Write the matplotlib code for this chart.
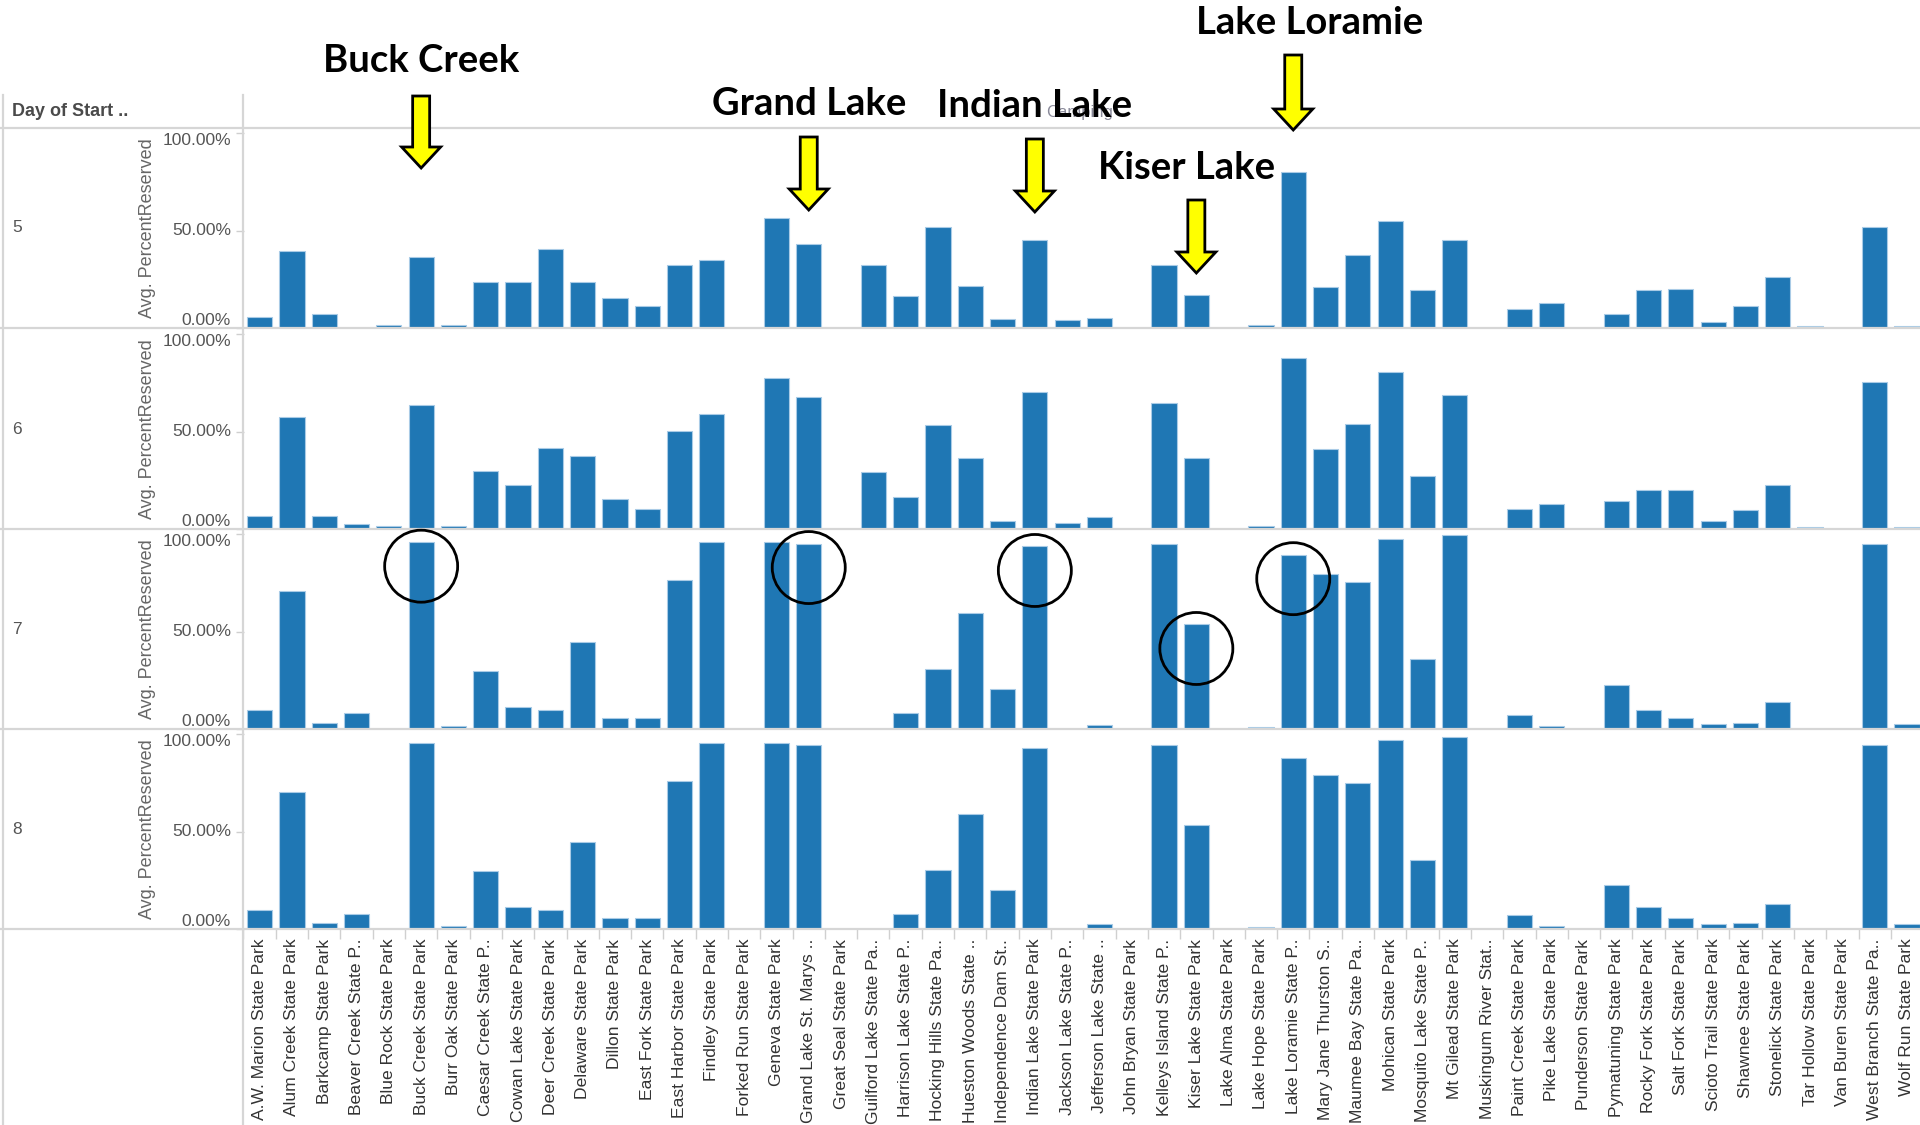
import matplotlib.pyplot as plt
from matplotlib.patches import FancyArrow, Ellipse

# -------------------------------
# Data: avg. percent reserved per park, one list per start day
# -------------------------------
parks = [
    "A.W. Marion State Park", "Alum Creek State Park", "Barkcamp State Park",
    "Beaver Creek State P..", "Blue Rock State Park", "Buck Creek State Park",
    "Burr Oak State Park", "Caesar Creek State P..", "Cowan Lake State Park",
    "Deer Creek State Park", "Delaware State Park", "Dillon State Park",
    "East Fork State Park", "East Harbor State Park", "Findley State Park",
    "Forked Run State Park", "Geneva State Park", "Grand Lake St. Marys ..",
    "Great Seal State Park", "Guilford Lake State Pa..", "Harrison Lake State P..",
    "Hocking Hills State Pa..", "Hueston Woods State ..", "Independence Dam St..",
    "Indian Lake State Park", "Jackson Lake State P..", "Jefferson Lake State ..",
    "John Bryan State Park", "Kelleys Island State P..", "Kiser Lake State Park",
    "Lake Alma State Park", "Lake Hope State Park", "Lake Loramie State P..",
    "Mary Jane Thurston S..", "Maumee Bay State Pa..", "Mohican State Park",
    "Mosquito Lake State P..", "Mt Gilead State Park", "Muskingum River Stat..",
    "Paint Creek State Park", "Pike Lake State Park", "Punderson State Park",
    "Pymatuning State Park", "Rocky Fork State Park", "Salt Fork State Park",
    "Scioto Trail State Park", "Shawnee State Park", "Stonelick State Park",
    "Tar Hollow State Park", "Van Buren State Park", "West Branch State Pa..",
    "Wolf Run State Park",
]

days = ["5", "6", "7", "8"]

day5 = [5.7, 39.7, 7.2, 0, 1.6, 36.4, 1.6, 23.4, 23.4, 40.3, 23.4, 15.5, 11.4,
        32.2, 34.7, 0, 56.6, 42.9, 0, 32.2, 16.2, 51.7, 21.7, 4.8, 45.3, 4.1,
        5.0, 0, 32.2, 17.1, 0, 1.6, 80.0, 21.0, 37.2, 55.0, 19.5, 45.3, 0,
        9.8, 12.9, 0, 7.2, 19.5, 20.2, 3.3, 11.4, 25.9, 0.9, 0, 51.7, 0.9]

day6 = [6.6, 57.4, 6.6, 2.6, 1.7, 63.8, 1.7, 30.0, 22.8, 41.4, 37.2, 15.3, 10.3,
        50.2, 59.0, 0, 77.6, 67.8, 0, 29.0, 16.2, 53.3, 36.4, 4.1, 70.3, 3.3,
        6.0, 0, 64.7, 36.4, 0, 1.7, 87.9, 41.2, 54.1, 80.7, 27.4, 68.6, 0,
        10.3, 12.9, 0, 14.5, 20.2, 20.2, 4.1, 9.7, 22.6, 0.9, 0, 75.2, 0.9]

day7 = [9.9, 70.8, 3.1, 8.0, 0, 95.8, 1.6, 30.0, 11.5, 9.9, 44.8, 5.7, 5.7,
        76.4, 95.8, 0, 95.8, 95.1, 0, 0, 8.0, 30.7, 59.4, 20.3, 93.6, 0,
        2.3, 0, 95.1, 53.6, 0, 0.9, 89.4, 79.7, 75.5, 97.6, 35.8, 99.3, 0,
        7.3, 1.6, 0, 22.7, 9.9, 5.7, 2.4, 3.1, 13.7, 0, 0, 95.1, 2.4]

day8 = [9.7, 70.3, 3.1, 7.9, 0, 95.2, 1.7, 29.8, 11.4, 9.7, 44.5, 5.5, 5.5,
        76.0, 95.2, 0, 95.2, 94.5, 0, 0, 7.9, 30.5, 59.0, 20.2, 92.8, 0,
        2.4, 0, 94.5, 53.3, 0, 0.9, 87.9, 79.1, 75.0, 96.9, 35.5, 98.6, 0,
        7.2, 1.7, 0, 22.6, 11.4, 5.5, 2.4, 3.1, 12.9, 0, 0, 94.5, 2.4]

# Highlighted parks: (annotation text, park index, text x shift, text y, arrow top, arrow tip)
highlights = [
    ("Buck Creek", 5, 0, 61, 96, 168),
    ("Grand Lake", 17, 0, 104, 137, 210),
    ("Indian Lake", 24, 0, 106, 139, 212),
    ("Kiser Lake", 29, -10, 168, 200, 273),
    ("Lake Loramie", 32, 16, 23, 55, 130),
]

# -------------------------------
# Layout (pixels)
# -------------------------------
W, H = 1920, 1125
LEFT, CAT = 243.5, 32.3
BASELINES = [328, 529, 729, 929]
ROW_H = 200
GREY_LINE = "#d6d6d6"
BAR_BLUE = "#1f77b4"

plt.rcParams["font.family"] = ["Liberation Sans", "DejaVu Sans"]

fig = plt.figure(figsize=(W / 100, H / 100), dpi=100)

series = [day5, day6, day7, day8]
axes = []
for i, (base, vals) in enumerate(zip(BASELINES, series)):
    ax = fig.add_axes([LEFT / W, (H - base) / H, len(parks) * CAT / W, ROW_H / H])
    ax.bar(range(len(parks)), vals, width=0.78, color=BAR_BLUE,
           edgecolor="#a9cbe6", linewidth=0.8)
    ax.set_xlim(-0.5, len(parks) - 0.5)
    ax.set_ylim(0, 100 * ROW_H / 195)
    for s in ax.spines.values():
        s.set_visible(False)

    ax.set_yticks([0, 50, 100])
    ax.set_yticklabels(["0.00%", "50.00%", "100.00%"], fontsize=12.5, color="#555555")
    ax.tick_params(axis="y", length=6, width=1, color="#cfcfcf", pad=3)
    for lbl, va in zip(ax.get_yticklabels(), ["bottom", "center", "top"]):
        lbl.set_va(va)

    if i == len(series) - 1:
        ax.set_xticks(range(len(parks)))
        ax.set_xticklabels(parks, rotation=90, fontsize=12.6, color="#333333")
        ax.tick_params(axis="x", which="major", length=0, pad=7)
        ax.set_xticks([k + 0.5 for k in range(-1, len(parks))], minor=True)
        ax.tick_params(axis="x", which="minor", length=7, width=1, color="#d0d0d0")
    else:
        ax.set_xticks([])
    axes.append(ax)

# -------------------------------
# Overlay in pixel coordinates: table lines, headers, annotations
# -------------------------------
ov = fig.add_axes([0, 0, 1, 1], zorder=10)
ov.set_xlim(0, W)
ov.set_ylim(H, 0)
ov.axis("off")

for y in [128] + BASELINES:
    ov.plot([0, W], [y, y], color=GREY_LINE, lw=1.6)
ov.plot([243, 243], [95, H], color=GREY_LINE, lw=1.6)
ov.plot([3, 3], [95, H], color=GREY_LINE, lw=1.6)

ov.text(12, 112, "Day of Start ..", fontsize=13, fontweight="bold",
        color="#4a4a4a", va="center", ha="left")
ov.text(1080, 112, "Camping", fontsize=12, color="#8a8a9a", va="center", ha="center")

for base, day in zip(BASELINES, days):
    yc = base - ROW_H / 2
    ov.text(12, yc, day, fontsize=12.5, color="#555555", va="center", ha="left")
    ov.text(147, yc, "Avg. PercentReserved", fontsize=13, color="#666666",
            rotation=90, va="center", ha="center")

# Annotations: labels, yellow arrows and circles around day-7 bars
ax7 = axes[2]
for text, idx, dx, ty, y0, y1 in highlights:
    xb = ax7.transData.transform((idx, 0))[0]
    ov.text(xb + dx, ty, text, fontsize=27.5, fontweight="bold", color="black",
            ha="center", va="center", family=["Lato", "DejaVu Sans"], zorder=12)
    ov.add_patch(FancyArrow(xb, y0, 0, y1 - y0, width=17, head_width=39,
                            head_length=21, length_includes_head=True,
                            fc="#ffff00", ec="black", lw=2, zorder=11))
    top = 729 - day7[idx] * 195 / 100
    ov.add_patch(Ellipse((xb, top + 24), 73, 72, fill=False, ec="black", lw=2,
                         zorder=11))

fig.savefig("out.png", dpi=100)
